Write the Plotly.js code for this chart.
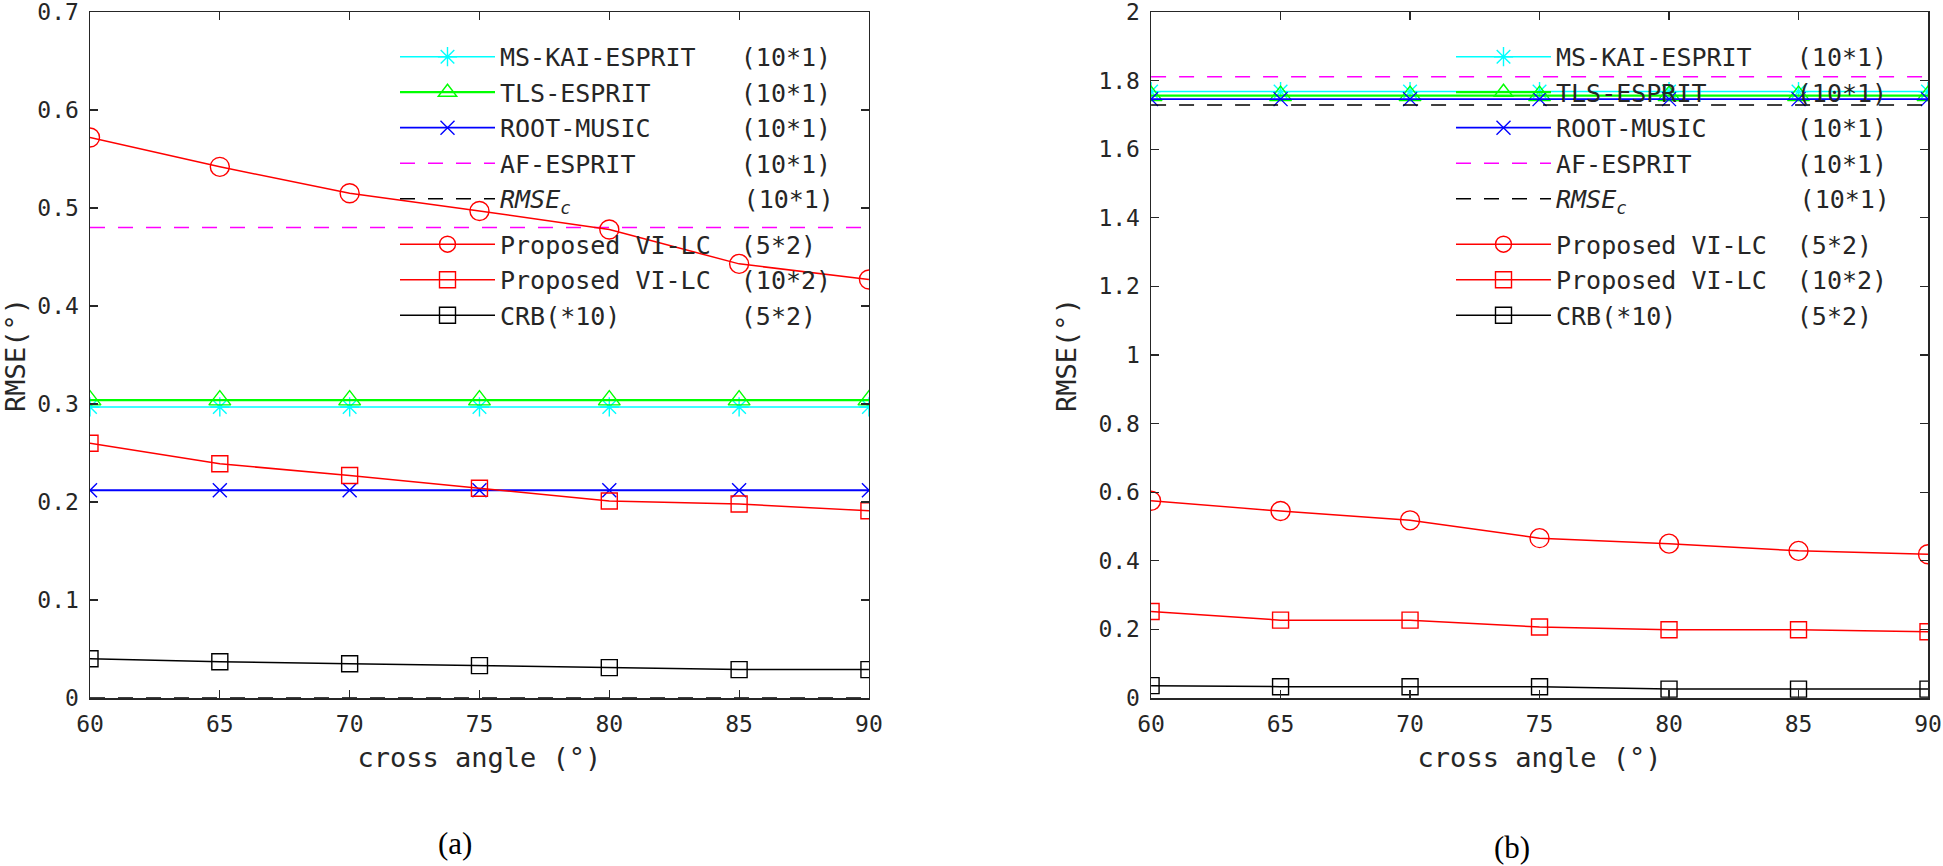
<!DOCTYPE html>
<html>
<head>
<meta charset="utf-8">
<script src="https://cdn.plot.ly/plotly-3.0.1.min.js"></script>
<style>
  html, body { margin: 0; padding: 0; background: #ffffff; }
  #chart { width: 1943px; height: 866px; }
</style>
</head>
<body>
<div id="chart"></div>
<script>
// ---------- data ----------
const crossAngles = [60, 65, 70, 75, 80, 85, 90];
const xTickVals = [60, 65, 70, 75, 80, 85, 90];
const yTickValsA = [0, 0.1, 0.2, 0.3, 0.4, 0.5, 0.6, 0.7];
const yTickTextA = ['0', '0.1', '0.2', '0.3', '0.4', '0.5', '0.6', '0.7'];
const yTickValsB = [0, 0.2, 0.4, 0.6, 0.8, 1, 1.2, 1.4, 1.6, 1.8, 2];
const yTickTextB = ['0', '0.2', '0.4', '0.6', '0.8', '1', '1.2', '1.4', '1.6', '1.8', '2'];

const seriesNames = ['MS-KAI-ESPRIT', 'TLS-ESPRIT', 'ROOT-MUSIC', 'AF-ESPRIT', '<i>RMSE<sub>c</sub></i>', 'Proposed VI-LC', 'Proposed VI-LC', 'CRB(*10)'];
const seriesNameLengths = [13, 10, 10, 9, 5, 14, 14, 8];
const arraySizes = ['(10*1)', '(10*1)', '(10*1)', '(10*1)', '(10*1)', '(5*2)', '(10*2)', '(5*2)'];
const legendGroups = ['g1', 'g1', 'g1', 'g1', 'g1', 'g2', 'g2', 'g2'];

// panel (a)
const msKaiA   = [0.297, 0.297, 0.297, 0.297, 0.297, 0.297, 0.297];
const tlsA     = [0.304, 0.304, 0.304, 0.304, 0.304, 0.304, 0.304];
const rootA    = [0.212, 0.212, 0.212, 0.212, 0.212, 0.212, 0.212];
const afA      = [0.480, 0.480, 0.480, 0.480, 0.480, 0.480, 0.480];
const rmseCA   = [0.000, 0.000, 0.000, 0.000, 0.000, 0.000, 0.000];
const viLc52A  = [0.572, 0.542, 0.515, 0.497, 0.478, 0.443, 0.427];
const viLc102A = [0.260, 0.239, 0.227, 0.214, 0.201, 0.198, 0.191];
const crbA     = [0.040, 0.037, 0.035, 0.033, 0.031, 0.029, 0.029];

// panel (b)
const msKaiB   = [1.768, 1.768, 1.768, 1.768, 1.768, 1.768, 1.768];
const tlsB     = [1.756, 1.756, 1.756, 1.756, 1.756, 1.756, 1.756];
const rootB    = [1.746, 1.746, 1.746, 1.746, 1.746, 1.746, 1.746];
const afB      = [1.811, 1.811, 1.811, 1.811, 1.811, 1.811, 1.811];
const rmseCB   = [1.729, 1.729, 1.729, 1.729, 1.729, 1.729, 1.729];
const viLc52B  = [0.575, 0.545, 0.518, 0.466, 0.450, 0.429, 0.419];
const viLc102B = [0.252, 0.227, 0.227, 0.207, 0.199, 0.199, 0.193];
const crbB     = [0.036, 0.033, 0.033, 0.033, 0.026, 0.026, 0.026];

// ---------- styles ----------
const NB = '\u00a0';
function label(i) {
  const pad = Math.max(2, 16 - seriesNameLengths[i]);
  let extra = '';
  if (i === 4) extra = '<span style="font-size:12px">' + NB + '</span>';
  return seriesNames[i] + NB.repeat(pad) + extra + arraySizes[i];
}
const styles = [
  {color: '#00ffff', dash: 'solid', symbol: 'asterisk-open', size: 16, width: 1.5},
  {color: '#00ff00', dash: 'solid', symbol: 'triangle-up-open', size: 19, width: 2.2},
  {color: '#0000ff', dash: 'solid', symbol: 'x-thin-open', size: 14, width: 1.8},
  {color: '#ff00ff', dash: '15px,13px', symbol: null, size: 0, width: 1.5},
  {color: '#000000', dash: '15px,13px', symbol: null, size: 0, width: 1.5},
  {color: '#ff0000', dash: 'solid', symbol: 'circle-open', size: 19, width: 1.5},
  {color: '#ff0000', dash: 'solid', symbol: 'square-open', size: 16, width: 1.5},
  {color: '#000000', dash: 'solid', symbol: 'square-open', size: 16, width: 1.5}
];

function makeTraces(seriesList, xa, ya, legendId) {
  return seriesList.map((ys, i) => {
    const s = styles[i];
    const t = {
      type: 'scatter',
      x: crossAngles,
      y: ys,
      xaxis: xa,
      yaxis: ya,
      legend: legendId,
      legendgroup: legendId + legendGroups[i],
      name: label(i),
      mode: s.symbol ? 'lines+markers' : 'lines',
      line: {color: s.color, width: s.width, dash: s.dash},
      hoverinfo: 'x+y'
    };
    if (s.symbol) {
      t.marker = {symbol: s.symbol, size: s.size, color: s.color, line: {color: s.color, width: 1.4}};
    }
    return t;
  });
}

const tracesA = makeTraces([msKaiA, tlsA, rootA, afA, rmseCA, viLc52A, viLc102A, crbA], 'x', 'y', 'legend');
const tracesB = makeTraces([msKaiB, tlsB, rootB, afB, rmseCB, viLc52B, viLc102B, crbB], 'x2', 'y2', 'legend2');

const axColor = '#262626';
const tickFont = {family: 'DejaVu Sans Mono', size: 23, color: axColor};
const titleFont = {family: 'DejaVu Sans Mono', size: 27, color: axColor};

function xAxis(domain, anchor) {
  return {
    domain: domain, anchor: anchor, range: [60, 90],
    tickvals: xTickVals, ticks: 'inside', ticklen: 8, tickwidth: 1.2, tickcolor: axColor,
    showline: true, linecolor: axColor, linewidth: 1.5, mirror: 'ticks',
    showgrid: false, zeroline: false, tickfont: tickFont,
    ticklabelstandoff: 5, ticklabeloverflow: 'allow',
    title: {text: 'cross angle (°)', font: titleFont, standoff: 12}
  };
}
function yAxis(range, tv, tt, anchor) {
  return {
    anchor: anchor, domain: [0, 1], range: range, tickvals: tv, ticktext: tt,
    ticks: 'inside', ticklen: 8, tickwidth: 1.2, tickcolor: axColor,
    showline: true, linecolor: axColor, linewidth: 1.5, mirror: 'ticks',
    showgrid: false, zeroline: false, tickfont: tickFont,
    ticklabelstandoff: 5, ticklabeloverflow: 'allow',
    title: {text: 'RMSE(°)', font: titleFont, standoff: 14}
  };
}
function legendAt(x, y) {
  return {
    x: x, y: y, xanchor: 'left', yanchor: 'top',
    bgcolor: 'rgba(0,0,0,0)', borderwidth: 0,
    font: {family: 'DejaVu Sans Mono', size: 25, color: axColor},
    itemwidth: 95, traceorder: 'grouped', tracegroupgap: 10
  };
}

const layout = {
  width: 1943, height: 866,
  margin: {l: 90, r: 15, t: 12, b: 168},
  paper_bgcolor: '#ffffff', plot_bgcolor: '#ffffff',
  showlegend: true,
  xaxis: xAxis([0, 0.4238], 'y'),
  yaxis: yAxis([0, 0.7], yTickValsA, yTickTextA, 'x'),
  xaxis2: xAxis([0.5773, 1], 'y2'),
  yaxis2: yAxis([0, 2], yTickValsB, yTickTextB, 'x2'),
  legend: legendAt((395 - 90) / 1838, 0.968),
  legend2: legendAt((1451 - 90) / 1838, 0.968),
  annotations: [
    {text: '(a)', xref: 'paper', yref: 'paper', x: (455 - 90) / 1838, y: -(843 - 698) / 686,
     xanchor: 'center', yanchor: 'middle', showarrow: false,
     font: {family: 'Liberation Serif', size: 31, color: '#000000'}},
    {text: '(b)', xref: 'paper', yref: 'paper', x: (1512 - 90) / 1838, y: -(847 - 698) / 686,
     xanchor: 'center', yanchor: 'middle', showarrow: false,
     font: {family: 'Liberation Serif', size: 31, color: '#000000'}}
  ]
};

Plotly.newPlot('chart', tracesA.concat(tracesB), layout, {displayModeBar: false, staticPlot: true});
</script>
</body>
</html>
